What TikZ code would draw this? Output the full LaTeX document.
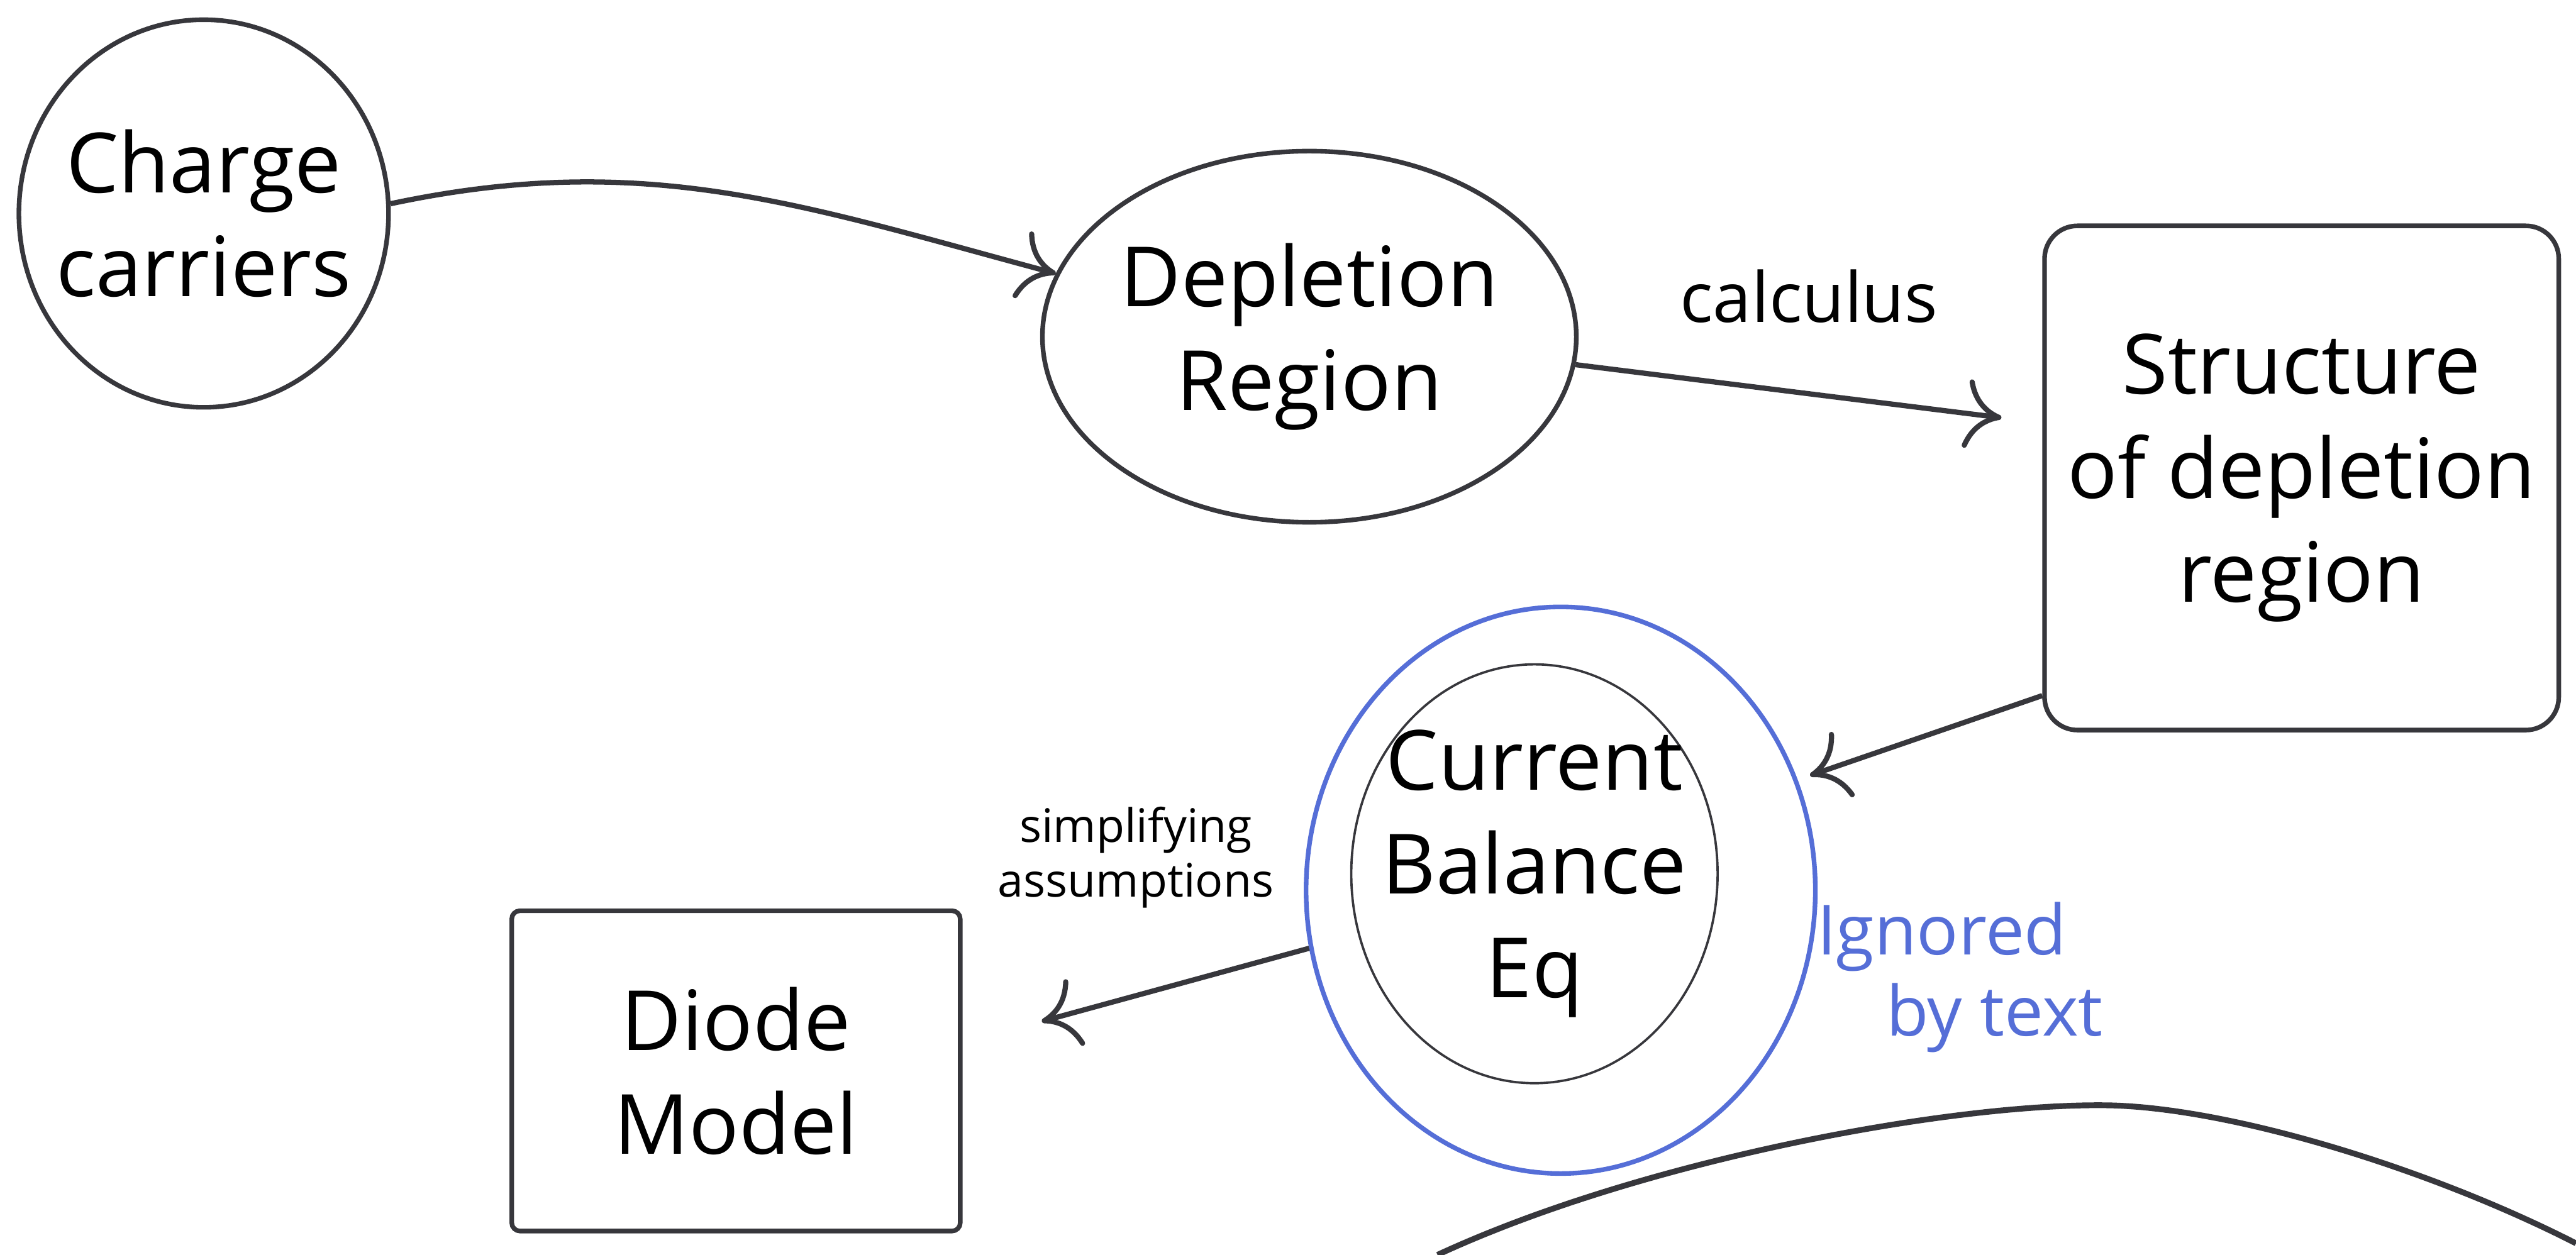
\documentclass[tikz,border=0pt]{standalone}
\usepackage{fontspec}
\setmainfont{Open Sans}
\usetikzlibrary{shapes.geometric,arrows.meta}
\definecolor{penblue}{RGB}{85,110,215}
\definecolor{pencil}{RGB}{55,55,60}

\begin{document}
\begin{tikzpicture}[x=0.1mm,y=0.1mm,
  bubble/.style={ellipse,draw=pencil,thick,inner sep=0pt,align=center,font=\Large},
  boxnode/.style={rectangle,draw=pencil,thick,inner sep=0pt,align=center,font=\Large},
  link/.style={-{Computer Modern Rightarrow[length=2.2mm,width=4.2mm]},draw=pencil,line width=0.9pt}]
  \useasboundingbox (0,0) rectangle (1568,764);

  \node[bubble,inner sep=-1.6mm,minimum width=22.5mm,minimum height=23.6mm] (charge) at (124,634) {Charge\\carriers};
  \node[bubble,minimum width=31.5mm,minimum height=22.6mm] (depl) at (797,559) {Depletion\\Region};
  \node[boxnode,rounded corners=2mm,minimum width=31.3mm,minimum height=30.7mm] (struct) at (1401,473) {Structure\\of depletion\\region};
  \node[ellipse,draw=penblue,thick,minimum width=31mm,minimum height=34.5mm] (cbwrap) at (950,222) {};
  \node[bubble,thin,inner xsep=-2mm,inner ysep=0pt,minimum width=22.3mm,minimum height=25.5mm] (balance) at (934,232) {Current\\Balance\\Eq};
  \node[boxnode,rounded corners=0.5mm,minimum width=27.3mm,minimum height=19.5mm] (diode) at (448,112) {Diode\\Model};
  \node[text=penblue,align=left,font=\large] (ignored) at (1193,169) {Ignored\\\quad by text};

  \draw[link] (charge.3) to[out=12,in=165] (depl.166);
  \draw[link,shorten >=2.5mm] (depl.-6) -- node[above=3mm]{\large calculus} (struct.168);
  \draw[link,shorten >=0.8mm] (struct.220) -- (cbwrap.25);
  \draw[link,shorten >=5mm] (cbwrap.193) -- node[above=4mm,align=center,font=\footnotesize]{simplifying\\assumptions} (diode.7);

  % wavy line at the bottom
  \draw[pencil,line width=1pt] (875,0) .. controls (1000,58) and (1190,93) .. (1285,91) .. controls (1360,89) and (1480,52) .. (1568,7);
\end{tikzpicture}
\end{document}
